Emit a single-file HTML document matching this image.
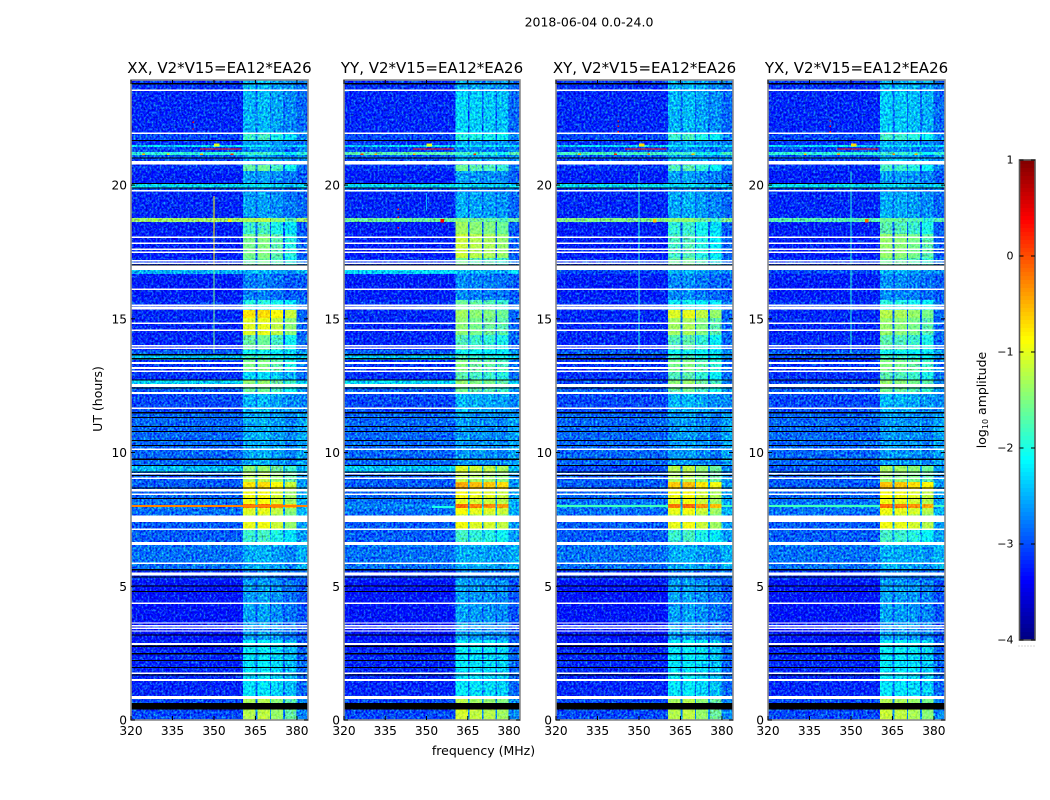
<!DOCTYPE html>
<html lang="en">
<head>
<meta charset="utf-8">
<title>2018-06-04 0.0-24.0 waterfall plots</title>
<style>
html,body{margin:0;padding:0;background:#fff;}
svg{display:block;}
text{font-family:"DejaVu Sans","Liberation Sans",sans-serif;fill:#000;}
</style>
</head>
<body>
<svg id="figure" xmlns="http://www.w3.org/2000/svg" width="1050" height="800" viewBox="0 0 1050 800">
  <defs>
    <filter id="speckle" x="0" y="0" width="100%" height="100%" color-interpolation-filters="sRGB">
      <feTurbulence type="fractalNoise" baseFrequency="0.5 0.42" numOctaves="2" seed="4" result="n"/>
      <feColorMatrix in="n" type="matrix" values="0.4 0 0 0 0.3  1.4 0 0 0 -0.22  0 0 1.0 0 0.02  0 0 0 0 1" result="m"/>
      <feComposite in="SourceGraphic" in2="m" operator="arithmetic" k1="0" k2="1" k3="1" k4="-0.5" result="s"/>
      <feComposite in="s" in2="SourceGraphic" operator="in"/>
    </filter>
    <filter id="speckle-soft" x="0" y="0" width="100%" height="100%" color-interpolation-filters="sRGB">
      <feTurbulence type="fractalNoise" baseFrequency="0.5 0.42" numOctaves="2" seed="9" result="n"/>
      <feColorMatrix in="n" type="matrix" values="0.5 0 0 0 0.25  0.5 0 0 0 0.25  0 0 0.5 0 0.25  0 0 0 0 1" result="m"/>
      <feComposite in="SourceGraphic" in2="m" operator="arithmetic" k1="0" k2="1" k3="1" k4="-0.5" result="s"/>
      <feComposite in="s" in2="SourceGraphic" operator="in"/>
    </filter>
  </defs>
  <text x="589" y="26.5" font-size="12.5" text-anchor="middle">2018-06-04 0.0-24.0</text>
  <text x="483.5" y="755" font-size="12.5" text-anchor="middle">frequency (MHz)</text>
  <text x="0" y="0" font-size="12.5" text-anchor="middle" transform="translate(102,399) rotate(-90)">UT (hours)</text>
  <text x="0" y="0" font-size="12.5" text-anchor="middle" transform="translate(986,400) rotate(-90)">log<tspan font-size="8" dy="2">10</tspan><tspan dy="-2"> amplitude</tspan></text>
  <g id="panels"></g>
  <g id="colorbar"></g>
</svg>
<script>
const panelNames = ['XX', 'YY', 'XY', 'YX'];
const baselineLabel = 'V2*V15=EA12*EA26';
const freqTicks = [320, 335, 350, 365, 380];
const hourTicks = [0, 5, 10, 15, 20];
const colorTicks = [1, 0, -1, -2, -3, -4];
const colorTickLabels = ['1', '0', '\u22121', '\u22122', '\u22123', '\u22124'];

/* Spectral windows in MHz */
const windowStart = [360.5, 365.7, 370.7, 375.7];
const windowEnd = [365.0, 370.2, 375.0, 379.8];

/* Time segment edges in UT hours, bottom to top */
const hourEdges = [0,.37,.64,.86,2.62,2.99,5.23,5.61,6.54,7.10,7.40,7.70,7.93,8.07,8.30,8.64,8.90,9.27,9.53,11.51,12.26,12.56,12.71,13.01,13.46,13.68,13.83,14.39,15.03,15.33,15.70,16.67,16.82,17.27,18.17,18.62,18.77,19.74,19.89,20.04,20.52,20.75,21.01,21.12,21.23,21.42,21.50,21.68,21.94,23.55,23.93];

/* log10 amplitude off-band per segment */
const offBandXX = [-3,-3,-3,-3.15,-3.2,-3.25,-3.1,-2.8,-2.9,-2.9,-2.85,-2.8,-2.8,-2.8,-2.85,-2.9,-2.9,-2.45,-2.85,-3,-2.9,-2.35,-3.1,-3.1,-2.4,-2.9,-3.15,-3.15,-3.15,-3.1,-3.2,-2.5,-3.1,-3.2,-3.2,-1.35,-3.15,-3,-2.3,-3.2,-3.1,-3,-2.9,-1.9,-3,-2.3,-3.1,-3,-3.15,-3.1];
const offBandYY = [-3,-3,-3,-3.15,-3.2,-3.25,-3.1,-2.8,-2.9,-2.9,-2.85,-2.8,-2.7,-2.8,-2.85,-2.9,-2.9,-2.4,-2.85,-3,-2.9,-2.3,-3.1,-3.1,-2.4,-2.9,-3.15,-3.15,-3.15,-3.1,-3.2,-2.3,-3.1,-3.2,-3.2,-1.6,-3.15,-3,-2.3,-3.2,-3.1,-3,-2.9,-1.7,-3,-2.3,-3.1,-3,-3.15,-3.1];
const offBandXY = [-3,-3,-3,-3.15,-3.2,-3.25,-3.1,-2.8,-2.9,-2.9,-2.85,-2.8,-2.7,-2.8,-2.85,-2.9,-2.9,-3,-2.85,-3,-2.9,-3,-3.1,-3.1,-3,-2.9,-3.15,-3.15,-3.15,-3.1,-3.2,-3,-3.1,-3.2,-3.2,-1.5,-3.15,-3,-2.3,-3.2,-3.1,-3,-2.9,-1.8,-3,-2.3,-3.1,-3,-3.15,-3.1];
const offBandYX = [-3,-3,-3,-3.15,-3.2,-3.25,-3.1,-2.8,-2.9,-2.9,-2.85,-2.8,-2.7,-2.8,-2.85,-2.9,-2.9,-2.9,-2.85,-3,-2.9,-3,-3.1,-3.1,-3,-2.9,-3.15,-3.15,-3.15,-3.1,-3.2,-3,-3.1,-3.2,-3.2,-1.7,-3.15,-3,-2.3,-3.2,-3.1,-3,-2.9,-1.9,-3,-2.3,-3.1,-3,-3.15,-3.1];

/* log10 amplitude inside the spectral windows per segment */
const inBandXX = [-1.3,-1.3,-1.35,-2.25,-2.2,-2.6,-2.75,-2.55,-1.9,-1.05,-1.2,-1.1,-.25,-1,-1,-.8,-1.3,-1.5,-2.55,-2.5,-1.7,-1.5,-2.3,-1.6,-1.9,-2.1,-1.7,-1.1,-.8,-2,-2.75,-2.5,-1.7,-1.6,-1.9,-1.35,-2.6,-2.8,-2.3,-2.6,-1.7,-2.5,-2.6,-1.9,-2.7,-2.2,-2.6,-1.9,-2.5,-2.5];
const inBandYY = [-1.2,-1.2,-1.35,-2.25,-2.2,-2.6,-2.75,-2.55,-1.9,-1.05,-1.2,-1,-.25,-1.1,-1,-.55,-1.3,-1.15,-2.65,-2.5,-1.7,-1.5,-1.8,-1.6,-1.9,-2.1,-1.85,-1.55,-1.45,-1.7,-2.7,-2.5,-1.7,-1.25,-1.45,-1.6,-2.55,-2.8,-2.3,-2.6,-1.7,-2.5,-2.6,-1.9,-2.7,-2.2,-2.6,-2,-2.35,-2.55];
const inBandXY = [-1.3,-1.3,-1.35,-2.25,-2.2,-2.6,-2.75,-2.55,-1.9,-1.05,-1.2,-1.05,-.25,-1.05,-1,-.65,-1.35,-1.3,-2.65,-2.5,-1.7,-1.5,-1.8,-1.6,-1.9,-2.1,-1.8,-1.4,-1.1,-2.1,-2.7,-2.5,-1.7,-1.85,-1.95,-1.5,-2.55,-2.8,-2.3,-2.6,-1.8,-2.5,-2.6,-1.9,-2.7,-2.2,-2.6,-1.9,-2.5,-2.5];
const inBandYX = [-1.25,-1.25,-1.35,-2.25,-2.2,-2.6,-2.75,-2.55,-1.9,-1.05,-1.2,-1.05,-.25,-1.05,-1,-.65,-1.5,-1.4,-2.65,-2.5,-1.7,-1.5,-1.8,-1.6,-1.9,-2.1,-1.8,-1.5,-1.35,-2,-2.7,-2.5,-1.7,-1.5,-1.8,-1.7,-2.55,-2.8,-2.3,-2.6,-1.9,-2.5,-2.6,-1.9,-2.7,-2.2,-2.6,-1.9,-2.4,-2.5];

/* Per-window adjustment of the in-band level for each polarisation */
const windowTiltXX = [.05, .1, -.1, -.35];
const windowTiltYY = [.1, 0, -.05, -.15];
const windowTiltXY = [.05, .1, -.1, -.3];
const windowTiltYX = [.1, .05, -.05, -.2];

/* Flagged time ranges drawn white, [low hour, high hour] */
const flaggedHours = [[23.51,23.57],[21.91,21.96],[20.77,20.90],[19.76,19.81],[18.02,18.07],[17.79,17.85],[17.57,17.63],[17.46,17.51],[17.14,17.20],[17.05,17.10],[16.82,16.99],[16.07,16.13],[15.48,15.54],[15.34,15.46],[14.80,14.86],[14.54,14.60],[13.96,14.02],[13.88,13.93],[13.31,13.38],[13.13,13.19],[13.01,13.07],[12.46,12.56],[12.19,12.26],[11.63,11.68],[10.09,10.15],[9.18,9.23],[9.01,9.07],[8.55,8.64],[8.42,8.47],[7.40,7.64],[7.10,7.16],[6.54,6.65],[5.83,5.89],[5.41,5.52],[4.34,4.39],[3.60,3.65],[3.50,3.55],[3.40,3.45],[3.30,3.35],[2.80,2.88],[1.72,1.77],[1.46,1.53],[.79,.90]];

/* Empty integrations drawn black */
const emptyHours = [23.79,21.67,21.01,20.06,19.89,17.01,13.66,13.51,12.71,12.41,11.49,11.32,10.98,10.79,10.46,10.27,9.75,9.52,9.27,9.15,8.67,8.29,5.62,5.35,5.01,4.80,3.18,2.76,2.48,2.23,1.97,1.69];
const emptyBand = [.39, .64];

/* Interference in a single channel: panel, MHz, low hour, high hour, log10 amp */
const rfiChannels = [
  [0,350,13.72,17.0,-1.55],[0,350,17.0,19.6,-.85],
  [1,350,19.05,19.7,-2.5],
  [2,350,13.72,20.5,-1.95],[3,350,13.72,20.5,-1.95]
];

/* Interference over a span of channels: panel, low MHz, high MHz, hour, thickness hours, log10 amp */
const rfiSpans = [
  [0,320,384,8.0,.07,-.25],
  [2,320,360.5,8.0,.07,-1.8],[2,379.8,384,8.0,.07,-1.8],
  [3,320,360.5,8.0,.07,-1.8],[3,379.8,384,8.0,.07,-1.8],
  [0,345,360,21.35,.045,.3],[1,345,360,21.35,.045,.3],[2,345,360,21.35,.045,.3],[3,345,360,21.35,.045,.3],
  [0,350,352,21.5,.12,-1],[1,350,352,21.5,.12,-1],[2,350,352,21.5,.12,-.7],[3,350,352,21.5,.12,-.7],
  [0,355,356.4,18.67,.1,-.8],[1,355,356.4,18.67,.14,.4],[2,355,356.4,18.67,.12,-.6],[3,355,356.4,18.67,.12,-.1],
  [1,352,360,7.97,.07,-2],
  [0,342.2,342.7,22.35,.05,.3],[0,342.2,342.7,22.1,.05,.3],
  [2,342.2,342.7,22.4,.05,.1],[2,342.2,342.7,22.2,.05,.3],[2,342.2,342.7,22.0,.05,.3],
  [3,342.2,342.7,22.4,.05,.2],[3,342.2,342.7,22.2,.05,.3],[3,342.2,342.7,22.0,.05,.2],
  [1,339.5,340,19.1,.05,.2],[1,339.5,340,18.8,.05,.3],[1,339.5,340,18.4,.05,.3],
  [0,324,325,21.15,.05,-.5],[1,326,327,21.15,.05,.1],[2,328,329,21.15,.05,-.5],[3,333,334,21.15,.05,-.5],
  [0,333,334,21.15,.05,-.7],[1,331,332,21.15,.05,-.5],[2,341,342,21.15,.05,.2],[3,345,346,21.15,.05,-.4],
  [0,356,357,21.15,.05,.2],[1,367,368,21.15,.05,.2],[2,369,370,21.15,.05,-.5],[3,373,374,21.15,.05,-.5],
  [0,345,346,21.15,.05,-.5],[1,345,346,21.15,.05,-.5],[2,353,354,21.15,.05,-.3],[3,365,366,21.15,.05,-.3]
];

const offBand = [offBandXX, offBandYY, offBandXY, offBandYX];
const inBand = [inBandXX, inBandYY, inBandXY, inBandYX];
const windowTilt = [windowTiltXX, windowTiltYY, windowTiltXY, windowTiltYX];

const SVG_NS = 'http://www.w3.org/2000/svg';
const panelLeft = [131, 344, 556, 768];
const panelRight = [308, 520, 733, 945];
const plotTop = 80, plotBottom = 720;
const freqMin = 320, freqMax = 384;
const hourMin = 0, hourMax = 23.93;
const colorMin = -4, colorMax = 1;
const cbarLeft = 1019.5, cbarRight = 1035, cbarTop = 160, cbarBottom = 640;

function xScale(p, f) { return panelLeft[p] + (f - freqMin) / (freqMax - freqMin) * (panelRight[p] - panelLeft[p]); }
function yScale(h) { return plotBottom - (h - hourMin) / (hourMax - hourMin) * (plotBottom - plotTop); }
function clip01(v) { return Math.max(0, Math.min(1, v)); }
function jet(level) {
  const v = clip01((level - colorMin) / (colorMax - colorMin));
  const r = clip01(Math.min(4 * v - 1.5, -4 * v + 4.5));
  const g = clip01(Math.min(4 * v - 0.5, -4 * v + 3.5));
  const b = clip01(Math.min(4 * v + 0.5, -4 * v + 2.5));
  return 'rgb(' + Math.round(r * 255) + ',' + Math.round(g * 255) + ',' + Math.round(b * 255) + ')';
}
function svgEl(tag, parent) {
  const el = document.createElementNS(SVG_NS, tag);
  parent.appendChild(el);
  return el;
}
function cell(parent, x0, y0, x1, y1, fill, name) {
  const el = svgEl('rect', parent);
  
  
  el.setAttribute('x', x0);
  el.setAttribute('y', y0);
  el.setAttribute('width', Math.max(0, x1 - x0));
  el.setAttribute('height', Math.max(0, y1 - y0));
  el.setAttribute('fill', fill);
  el.setAttribute('shape-rendering', 'crispEdges');
  return el;
}
function tickLine(parent, x1, y1, x2, y2, name) {
  const el = svgEl('line', parent);
  
  
  el.setAttribute('x1', x1);
  el.setAttribute('y1', y1);
  el.setAttribute('x2', x2);
  el.setAttribute('y2', y2);
  el.setAttribute('stroke', '#000');
  el.setAttribute('stroke-width', '1');
}
function label(parent, x, y, str, anchor, size, name) {
  const el = svgEl('text', parent);
  
  
  el.setAttribute('x', x);
  el.setAttribute('y', y);
  el.setAttribute('text-anchor', anchor);
  el.setAttribute('font-size', size);
  el.textContent = str;
  return el;
}

const panelsRoot = document.getElementById('panels');
panelNames.forEach(function (pol, p) {
  const group = svgEl('g', panelsRoot);
  
  
  const L = panelLeft[p], R = panelRight[p];

  const heat = svgEl('g', group);
  
  
  const weak = svgEl('g', heat);
  
  
  weak.setAttribute('filter', 'url(#speckle)');
  const strong = svgEl('g', heat);
  
  
  strong.setAttribute('filter', 'url(#speckle-soft)');

  for (let i = 0; i < hourEdges.length - 1; i++) {
    const y0 = yScale(hourEdges[i + 1]), y1 = yScale(hourEdges[i]);
    const off = offBand[p][i], on = inBand[p][i];
    cell(weak, L, y0, R, y1, jet(off), 'off-band-cell');
    const between = Math.max(off, Math.min(off + .3, -2.5));
    cell(weak, xScale(p, windowStart[0]), y0, R, y1, jet(between), 'between-window-cell');
    windowStart.forEach(function (f0, w) {
      const lvl = on + windowTilt[p][w] * (on > -2 ? 1 : .5);
      const target = lvl > -1.6 ? strong : weak;
      cell(target, xScale(p, f0), y0, xScale(p, windowEnd[w]), y1, jet(lvl), 'in-band-cell');
    });
  }

  rfiChannels.forEach(function (c) {
    if (c[0] !== p) return;
    const x = xScale(p, c[1]);
    cell(group, x - .5, yScale(c[3]), x + .7, yScale(c[2]), jet(c[4]), 'rfi-channel');
  });
  rfiSpans.forEach(function (s) {
    if (s[0] !== p) return;
    cell(group, xScale(p, s[1]), yScale(s[3] + s[4] / 2), xScale(p, s[2]), yScale(s[3] - s[4] / 2), jet(s[5]), 'rfi-span');
  });
  flaggedHours.forEach(function (g) {
    cell(group, L, yScale(g[1]), R, yScale(g[0]), '#fff', 'flagged-time-range');
  });
  emptyHours.forEach(function (h) {
    const yc = yScale(h);
    cell(group, L, yc - .5, R, yc + .6, '#000', 'empty-integration');
  });
  cell(group, L, yScale(emptyBand[1]), R, yScale(emptyBand[0]), '#000', 'empty-time-band');

  const frame = svgEl('rect', group);
  
  
  frame.setAttribute('x', L);
  frame.setAttribute('y', plotTop);
  frame.setAttribute('width', R - L);
  frame.setAttribute('height', plotBottom - plotTop);
  frame.setAttribute('fill', 'none');
  frame.setAttribute('stroke', '#8c8c8c');
  frame.setAttribute('stroke-width', '1.6');

  freqTicks.forEach(function (f) {
    const x = xScale(p, f);
    tickLine(group, x, plotBottom, x, plotBottom - 4, 'x-tick');
    tickLine(group, x, plotTop, x, plotTop + 4, 'x-tick-top');
    label(group, x, plotBottom + 15, String(f), 'middle', 12.2, 'x-tick-label');
  });
  hourTicks.forEach(function (h) {
    const y = yScale(h);
    tickLine(group, L, y, L + 4, y, 'y-tick');
    tickLine(group, R, y, R - 4, y, 'y-tick-right');
    label(group, L - 4, y + 4.5, String(h), 'end', 12.2, 'y-tick-label');
  });
  label(group, (L + R) / 2, 73, pol + ', ' + baselineLabel, 'middle', 15, 'panel-title');
});

const bar = document.getElementById('colorbar');
const cbarScale = function (lvl) { return cbarBottom - (lvl - colorMin) / (colorMax - colorMin) * (cbarBottom - cbarTop); };
for (let k = 0; k < 120; k++) {
  const lo = colorMin + k / 120 * (colorMax - colorMin);
  const hi = colorMin + (k + 1) / 120 * (colorMax - colorMin);
  cell(bar, cbarLeft, cbarScale(hi), cbarRight, cbarScale(lo), jet((lo + hi) / 2), 'colorbar-cell');
}
const cbarFrame = svgEl('rect', bar);


cbarFrame.setAttribute('x', cbarLeft);
cbarFrame.setAttribute('y', cbarTop);
cbarFrame.setAttribute('width', cbarRight - cbarLeft);
cbarFrame.setAttribute('height', cbarBottom - cbarTop);
cbarFrame.setAttribute('fill', 'none');
cbarFrame.setAttribute('stroke', '#555');
cbarFrame.setAttribute('stroke-width', '1.6');
colorTicks.forEach(function (t, i) {
  const y = cbarScale(t);
  tickLine(bar, cbarLeft, y, cbarLeft + 4, y, 'colorbar-tick');
  tickLine(bar, cbarRight, y, cbarRight - 4, y, 'colorbar-tick-right');
  label(bar, cbarLeft - 6, y + 3.5, colorTickLabels[i], 'end', 11, 'colorbar-tick-label');
});
const cbarDots = svgEl('line', bar);


cbarDots.setAttribute('x1', cbarLeft - 1);
cbarDots.setAttribute('y1', 646);
cbarDots.setAttribute('x2', cbarRight);
cbarDots.setAttribute('y2', 646);
cbarDots.setAttribute('stroke', '#aaa');
cbarDots.setAttribute('stroke-width', '1');
cbarDots.setAttribute('stroke-dasharray', '1 2');
</script>
</body>
</html>
